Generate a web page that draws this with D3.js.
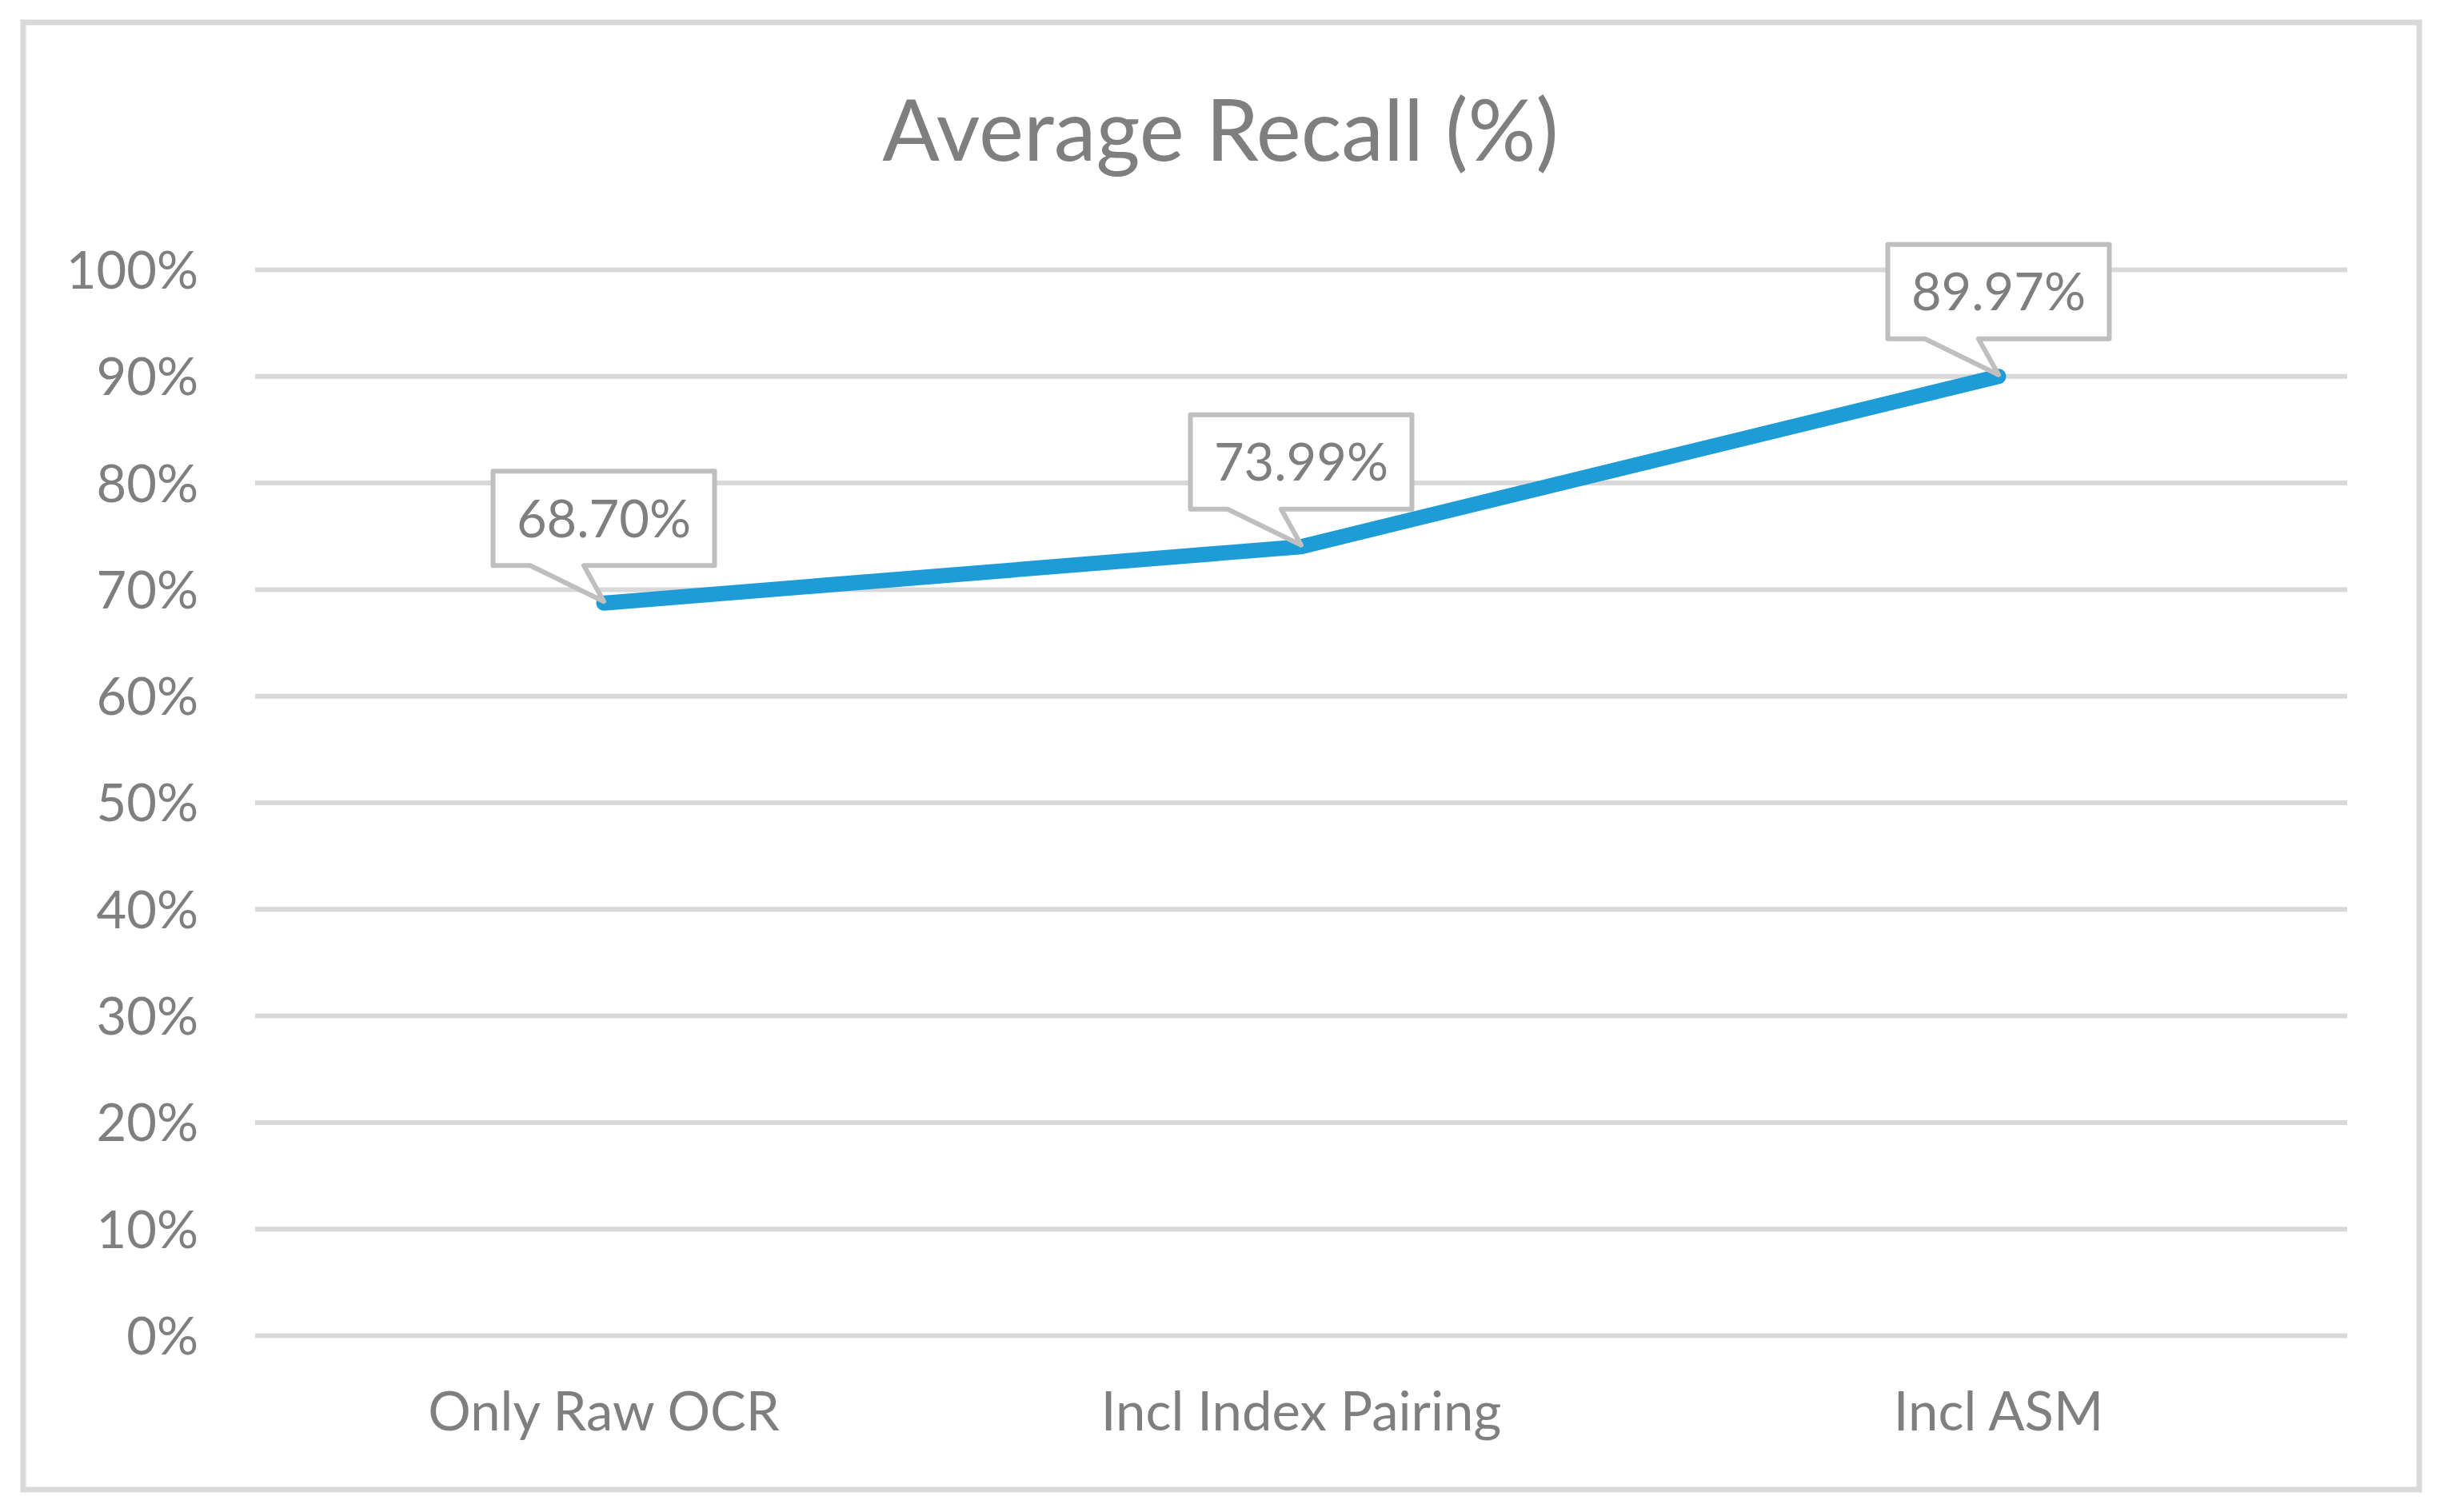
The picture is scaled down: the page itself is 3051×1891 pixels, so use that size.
<!DOCTYPE html>
<html>
<head>
<meta charset="utf-8">
<script src="https://cdn.jsdelivr.net/npm/d3@7"></script>
<style>
  body { margin: 0; background: #fff; }
  text { font-family: Lato, "Open Sans", sans-serif; fill: #7f7f7f; }
</style>
</head>
<body>
<svg id="chart"></svg>
<script>
// chart data
var categories = ["Only Raw OCR", "Incl Index Pairing", "Incl ASM"];
var recall = [68.70, 73.99, 89.97];
var valueLabels = ["68.70%", "73.99%", "89.97%"];
var yTicks = [0, 10, 20, 30, 40, 50, 60, 70, 80, 90, 100];
var title = "Average Recall (%)";

var width = 3051;
var height = 1891;
var plot = { left: 319, right: 2935, top: 337, bottom: 1670 };

var svg = d3.select("#chart")
  .attr("width", width)
  .attr("height", height);

// chart frame
svg.append("rect")
  .attr("x", 29).attr("y", 28)
  .attr("width", 2996).attr("height", 1835)
  .attr("fill", "#fff")
  .attr("stroke", "#d9d9d9")
  .attr("stroke-width", 7);

var xScale = d3.scaleBand()
  .domain(categories)
  .range([plot.left, plot.right]);

var yScale = d3.scaleLinear()
  .domain([0, 100])
  .range([plot.bottom, plot.top]);

var xc = (d) => xScale(d) + xScale.bandwidth() / 2;

// gridlines + y labels
var yAxis = d3.axisLeft(yScale)
  .tickValues(yTicks)
  .tickSize(-(plot.right - plot.left))
  .tickPadding(71)
  .tickFormat((d) => d + "%");

var gy = svg.append("g")
  .attr("transform", "translate(" + plot.left + ",0)")
  .call(yAxis);
gy.select(".domain").remove();
gy.selectAll(".tick line")
  .attr("stroke", "#d9d9d9")
  .attr("stroke-width", 6);
gy.selectAll(".tick text")
  .attr("font-size", 65)
  .attr("font-family", "Lato")
  .attr("fill", "#7f7f7f")
  .attr("dy", "0.36em");

// x labels
var xAxis = d3.axisBottom(xScale).tickSize(0).tickPadding(0);
var gx = svg.append("g")
  .attr("transform", "translate(0," + plot.bottom + ")")
  .call(xAxis);
gx.select(".domain").remove();
gx.selectAll(".tick text")
  .attr("font-size", 67)
  .attr("font-family", "Lato")
  .attr("fill", "#7f7f7f")
  .attr("dy", null)
  .attr("y", 119);

// line
var line = d3.line()
  .x((d, i) => xc(categories[i]))
  .y((d) => yScale(d));

svg.append("path")
  .datum(recall)
  .attr("d", line)
  .attr("fill", "none")
  .attr("stroke", "#1e9cd8")
  .attr("stroke-width", 19)
  .attr("stroke-linecap", "round")
  .attr("stroke-linejoin", "round");

// callout labels
var boxW = 277, boxH = 118, gap = 47;
function callout(px, py) {
  var l = px - boxW / 2, r = px + boxW / 2;
  var b = py - gap, t = b - boxH;
  return "M" + l + "," + t + "H" + r + "V" + b + "H" + (px - 25) +
    "L" + px + "," + (py - 2) + "L" + (px - 92) + "," + b + "H" + l + "Z";
}

var labels = svg.append("g").selectAll("g")
  .data(recall).enter()
  .append("g");

labels.append("path")
  .attr("d", (d, i) => callout(xc(categories[i]), yScale(d)))
  .attr("fill", "#fff")
  .attr("stroke", "#bfbfbf")
  .attr("stroke-width", 6)
  .attr("stroke-linejoin", "round");

labels.append("text")
  .attr("x", (d, i) => xc(categories[i]))
  .attr("y", (d) => yScale(d) - gap - boxH / 2)
  .attr("dy", "0.36em")
  .attr("text-anchor", "middle")
  .attr("font-size", 65)
  .text((d, i) => valueLabels[i]);

// title
svg.append("text")
  .attr("x", 1526)
  .attr("y", 201)
  .attr("text-anchor", "middle")
  .attr("font-size", 106)
  .text(title);
</script>
</body>
</html>
